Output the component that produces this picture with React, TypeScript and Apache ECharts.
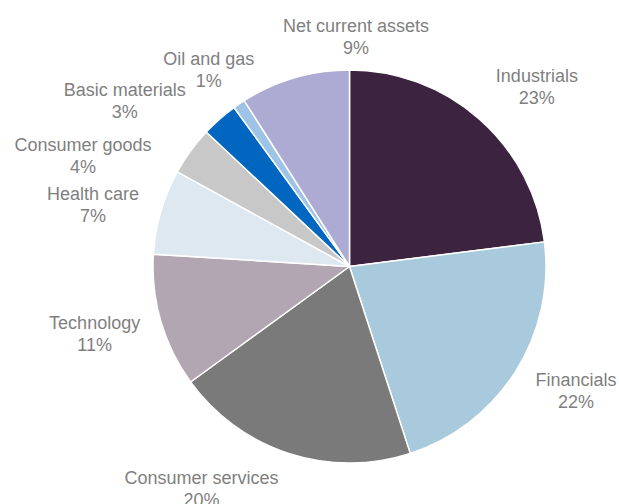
import React, { useEffect, useRef } from "react";
import * as echarts from "echarts";

const categories = [
  "Industrials",
  "Financials",
  "Consumer services",
  "Technology",
  "Health care",
  "Consumer goods",
  "Basic materials",
  "Oil and gas",
  "Net current assets",
];
const values = [23, 22, 20, 11, 7, 4, 3, 1, 9];
const colors = [
  "#3C2340",
  "#A9CADD",
  "#7A7A7A",
  "#B1A6B1",
  "#DDE8F1",
  "#C8C8C8",
  "#0066BF",
  "#9DC3E6",
  "#ADABD4",
];
// label placement: angular nudge (deg) from slice mid-angle, and distance from centre (px)
const labelNudge = [4.8, -3.6, 15.7, 1.4, -2.8, -13.4, -12.2, -1.4, 17.8];
const labelDist = [259.6, 258.5, 266.9, 263.6, 263.7, 288.7, 279.2, 241.7, 229.6];

const CX = 349.5;
const CY = 266.5;
const R = 196.5;

export default function App() {
  const ref = useRef<HTMLDivElement>(null);
  useEffect(() => {
    document.body.style.margin = "0";
    if (!ref.current) return;
    const chart = echarts.init(ref.current, undefined, { renderer: "svg" });
    const total = values.reduce((a, b) => a + b, 0);
    const mids: number[] = [];
    let acc = 0;
    values.forEach((v) => {
      mids.push(((acc + v / 2) / total) * 360);
      acc += v;
    });
    chart.setOption({
      animation: false,
      backgroundColor: "#ffffff",
      series: [
        {
          type: "pie",
          center: [CX, CY],
          radius: R,
          startAngle: 90,
          clockwise: true,
          avoidLabelOverlap: false,
          data: categories.map((name, i) => ({
            name,
            value: values[i],
            itemStyle: { color: colors[i] },
          })),
          itemStyle: { borderColor: "#ffffff", borderWidth: 1.5 },
          label: {
            show: true,
            position: "outside",
            formatter: "{b}\n{c}%",
            color: "#7F7F7F",
            fontFamily: "Liberation Sans, Arial, sans-serif",
            fontSize: 18,
            lineHeight: 22,
            align: "center",
          },
          labelLine: { show: false },
          emphasis: { disabled: true },
          labelLayout: (params: any) => {
            const i = params.dataIndex;
            const a = ((mids[i] + labelNudge[i]) * Math.PI) / 180;
            return {
              x: CX + labelDist[i] * Math.sin(a),
              y: CY - labelDist[i] * Math.cos(a),
              align: "center",
              verticalAlign: "middle",
            };
          },
        },
      ],
    });
    return () => chart.dispose();
  }, []);
  return <div ref={ref} style={{ width: 619, height: 504 }} />;
}
